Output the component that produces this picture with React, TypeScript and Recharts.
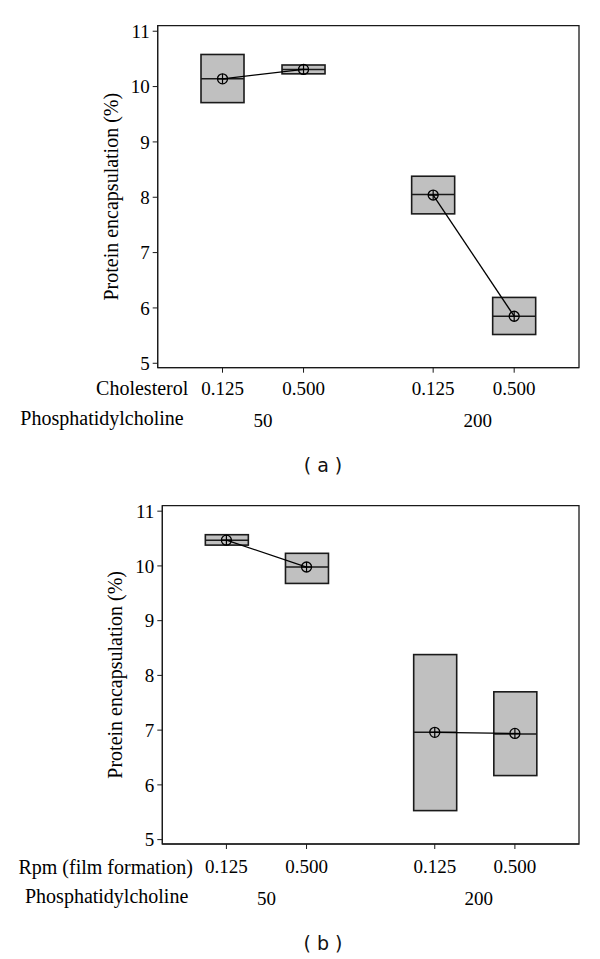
import React from 'react'
import { Bar, ComposedChart, Line, ReferenceArea, XAxis, YAxis } from 'recharts'

// factor levels, shared by both panels
const positions = [1, 2, 3.6, 4.6]
const levelLabels = ['0.125', '0.500', '0.125', '0.500']
const groupPositions = [1.5, 4.15]
const groupLabels = ['50', '200']
const yTicks = [5, 6, 7, 8, 9, 10, 11]

// panel (a): cholesterol x phosphatidylcholine
const lowA = [9.71, 10.23, 7.7, 5.52]
const highA = [10.58, 10.39, 8.38, 6.19]
const medianA = [10.14, 10.31, 8.05, 5.85]
const meanA = [10.14, 10.31, 8.04, 5.85]

// panel (b): rpm x phosphatidylcholine
const lowB = [10.38, 9.68, 5.53, 6.17]
const highB = [10.57, 10.23, 8.38, 7.7]
const medianB = [10.47, 9.98, 6.96, 6.93]
const meanB = [10.47, 9.98, 6.96, 6.94]

const SERIF = '"Liberation Serif", "DejaVu Serif", serif'
const INK = '#1a1a1a'

function buildRows(low: number[], high: number[], median: number[], mean: number[]) {
  return positions.map((x, i) => ({
    x,
    label: levelLabels[i],
    range: [low[i], high[i]],
    median: median[i],
    meanLeft: i < 2 ? mean[i] : null,
    meanRight: i >= 2 ? mean[i] : null
  }))
}

function BoxShape(props: any) {
  const { x, y, width, height, payload } = props
  const top = Math.min(y, y + height)
  const h = Math.abs(height)
  const [lo, hi] = payload.range
  const my = top + (h * (hi - payload.median)) / (hi - lo)
  return (
    <g>
      <rect x={x} y={top} width={width} height={h} fill="#c0c0c0" stroke={INK} strokeWidth={1.6} />
      <line x1={x} x2={x + width} y1={my} y2={my} stroke={INK} strokeWidth={1.5} />
    </g>
  )
}

function MeanDot(props: any) {
  const { cx, cy, value } = props
  if (value == null || cx == null || cy == null) return <g />
  const r = 5
  return (
    <g>
      <circle cx={cx} cy={cy} r={r} fill="none" stroke="#000" strokeWidth={1.3} />
      <line x1={cx - r} x2={cx + r} y1={cy} y2={cy} stroke="#000" strokeWidth={1.2} />
      <line x1={cx} x2={cx} y1={cy - r} y2={cy + r} stroke="#000" strokeWidth={1.2} />
    </g>
  )
}

type PanelProps = {
  rows: ReturnType<typeof buildRows>
  top: number
  axisWidth: number
  bottom: number
  rowName: string
  row1Gap: number
  row2Gap: number
  yLabelX: number
  tag: string
  tagY: number
}

function Panel({ rows, top, axisWidth, bottom, rowName, row1Gap, row2Gap, yLabelX, tag, tagY }: PanelProps) {
  const levelTick = (p: any) => (
    <text
      x={p.x}
      y={p.y - 7 + row1Gap}
      textAnchor="middle"
      dominantBaseline="central"
      fontFamily={SERIF}
      fontSize={19}
      fill="#000"
    >
      {levelLabels[positions.indexOf(p.payload.value)]}
    </text>
  )
  const groupTick = (p: any) => (
    <text
      x={p.x}
      y={p.y - 36 + row2Gap}
      textAnchor="middle"
      dominantBaseline="central"
      fontFamily={SERIF}
      fontSize={19}
      fill="#000"
    >
      {groupLabels[groupPositions.indexOf(p.payload.value)]}
    </text>
  )
  const rowLabel = (text: string, gap: number, shift: number) => (p: any) => (
    <text
      x={p.viewBox.x + shift}
      y={p.viewBox.y - (gap > 30 ? 36 : 0) + gap}
      textAnchor="end"
      dominantBaseline="central"
      fontFamily={SERIF}
      fontSize={20}
      fill="#000"
    >
      {text}
    </text>
  )

  return (
    <div style={{ position: 'absolute', left: 0, top, width: 600, height: 440 }}>
      <ComposedChart
        width={600}
        height={440}
        data={rows}
        margin={{ top: 25.7, right: 21, left: 0, bottom }}
      >
        <XAxis
          dataKey="x"
          type="number"
          domain={[0.2, 5.4]}
          ticks={positions}
          allowDataOverflow
          height={36}
          tickSize={5}
          tickLine={{ stroke: INK }}
          axisLine={{ stroke: INK }}
          tick={levelTick}
          label={{ content: rowLabel(rowName, row1Gap, 30.6) }}
        />
        <XAxis
          xAxisId="grp"
          dataKey="x"
          type="number"
          domain={[0.2, 5.4]}
          ticks={groupPositions}
          allowDataOverflow
          height={30}
          tickSize={0}
          tickLine={false}
          axisLine={false}
          tick={groupTick}
          label={{ content: rowLabel('Phosphatidylcholine', row2Gap, 26) }}
        />
        <YAxis
          type="number"
          domain={[4.92, 11.1]}
          ticks={yTicks}
          allowDataOverflow
          width={axisWidth}
          tickSize={5}
          tickMargin={3}
          tickLine={{ stroke: INK }}
          axisLine={{ stroke: INK }}
          tick={{ fontFamily: SERIF, fontSize: 19, fill: '#000' }}
          label={{
            content: (p: any) => (
              <text
                x={p.viewBox.x + yLabelX}
                y={p.viewBox.y + p.viewBox.height / 2}
                transform={`rotate(-90 ${p.viewBox.x + yLabelX} ${p.viewBox.y + p.viewBox.height / 2})`}
                textAnchor="middle"
                dominantBaseline="central"
                fontFamily={SERIF}
                fontSize={20}
                fill="#000"
              >
                Protein encapsulation (%)
              </text>
            )
          }}
        />
        <ReferenceArea x1={0.2} x2={5.4} y1={4.92} y2={11.1} fill="none" stroke={INK} strokeWidth={1.3} />
        <Bar dataKey="range" barSize={43} shape={BoxShape} isAnimationActive={false} />
        <Line
          dataKey="meanLeft"
          stroke="#000"
          strokeWidth={1.3}
          dot={(p: any) => <MeanDot key={`l${p.index}`} {...p} />}
          activeDot={false}
          connectNulls={false}
          isAnimationActive={false}
        />
        <Line
          dataKey="meanRight"
          stroke="#000"
          strokeWidth={1.3}
          dot={(p: any) => <MeanDot key={`r${p.index}`} {...p} />}
          activeDot={false}
          connectNulls={false}
          isAnimationActive={false}
        />
      </ComposedChart>
      <div
        style={{
          position: 'absolute',
          left: 0,
          width: 646,
          top: tagY - top - 12,
          height: 24,
          lineHeight: '24px',
          textAlign: 'center',
          fontFamily: '"DejaVu Sans", sans-serif',
          fontSize: 19,
          color: '#111'
        }}
      >
        {tag}
      </div>
    </div>
  )
}

export default function App() {
  const rowsA = buildRows(lowA, highA, medianA, meanA)
  const rowsB = buildRows(lowB, highB, medianB, meanB)
  return (
    <div style={{ position: 'absolute', left: 0, top: 0, width: 600, height: 959, background: '#fff' }}>
      <Panel
        rows={rowsA}
        top={0}
        axisWidth={157.7}
        bottom={6.3}
        rowName="Cholesterol"
        row1Gap={20.6}
        row2Gap={50.6}
        yLabelX={111}
        tag="( a )"
        tagY={465}
      />
      <Panel
        rows={rowsB}
        top={480}
        axisWidth={162.3}
        bottom={10}
        rowName="Rpm (film formation)"
        row1Gap={22.7}
        row2Gap={52}
        yLabelX={115}
        tag="( b )"
        tagY={943.3}
      />
    </div>
  )
}
